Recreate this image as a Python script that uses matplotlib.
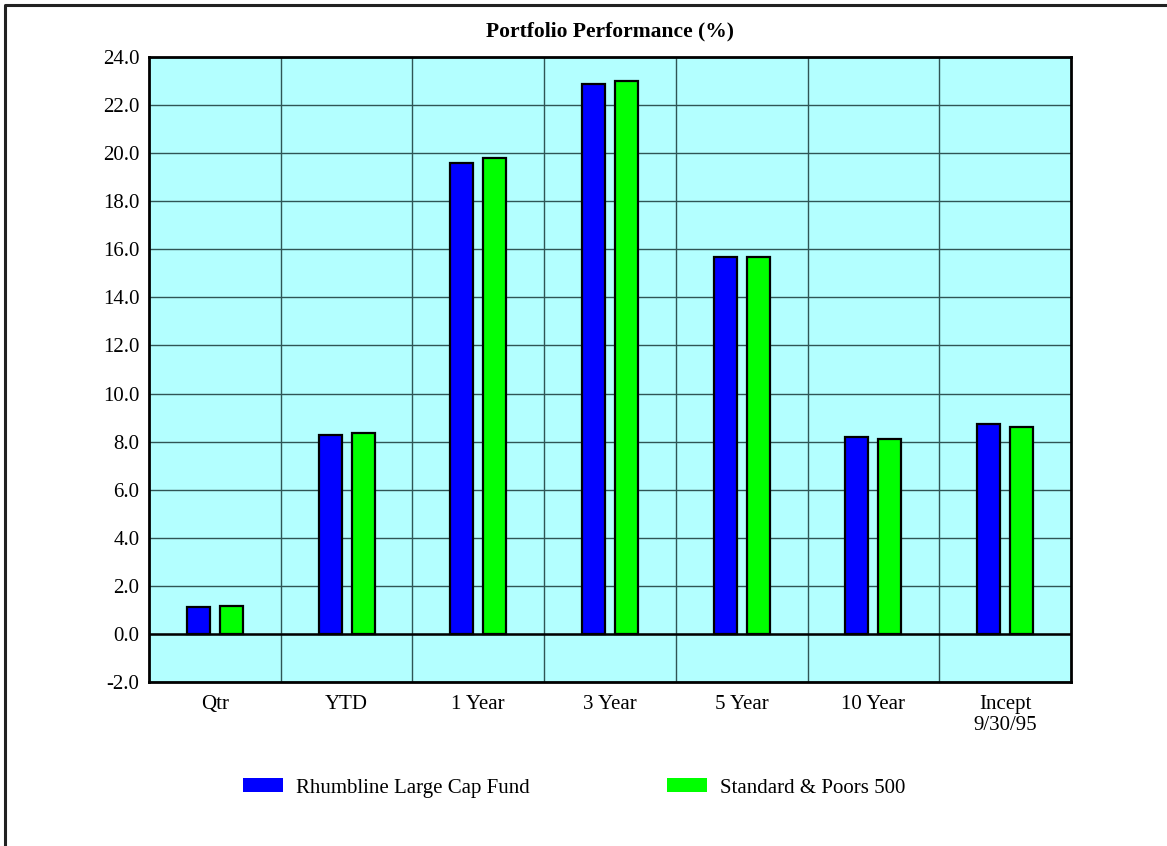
import matplotlib.pyplot as plt
import numpy as np
from matplotlib.lines import Line2D
from matplotlib.patches import Patch

plt.rcParams['font.family'] = ['Liberation Serif', 'DejaVu Serif']

categories = ["Qtr", "YTD", "1 Year", "3 Year", "5 Year", "10 Year", "Incept\n9/30/95"]
fund = [1.12, 8.28, 19.6, 22.88, 15.68, 8.2, 8.74]
sp500 = [1.16, 8.36, 19.8, 23.0, 15.68, 8.1, 8.6]
yticks = np.arange(-2.0, 24.1, 2.0)

fig = plt.figure(figsize=(11.67, 8.46), dpi=100)
ax = fig.add_axes([149 / 1167, 1 - 682 / 846, 922 / 1167, 625 / 846])
ax.set_facecolor("#b3ffff")

x = np.arange(len(categories))
ax.bar(x - 0.125, fund, width=0.175, color="#0000ff", edgecolor="black", linewidth=1.6, zorder=3)
ax.bar(x + 0.125, sp500, width=0.175, color="#00ff00", edgecolor="black", linewidth=1.6, zorder=3)
ax.axhline(0, color="black", linewidth=1.8, zorder=2)

ax.set_xlim(-0.5, len(categories) - 0.5)
ax.set_ylim(-2, 24)
ax.set_yticks(yticks)
ax.set_yticklabels([f"{v:.1f}" for v in yticks])
ax.set_xticks(x)
ax.set_xticklabels(categories, va="top", linespacing=1.2)
ax.set_xticks(x[:-1] + 0.5, minor=True)
ax.tick_params(axis="both", which="both", length=0, labelsize=15)
ax.tick_params(axis="x", pad=9)
ax.tick_params(axis="y", pad=7)
ax.grid(True, which="major", axis="y", color="#2f5555", linewidth=1, zorder=1)
ax.grid(True, which="minor", axis="x", color="#2f5555", linewidth=1, zorder=1)
ax.set_axisbelow(True)
for s in ax.spines.values():
    s.set_linewidth(2)
    s.set_color("black")

ax.set_title("Portfolio Performance (%)", fontsize=15.5, fontweight="bold", pad=15)

handles = [Patch(facecolor="#0000ff", edgecolor="none"), Patch(facecolor="#00ff00", edgecolor="none")]
fig.legend(handles, ["Rhumbline Large Cap Fund", "Standard & Poors 500"], loc="center left",
           bbox_to_anchor=(224 / 1167, 1 - 788 / 846), ncol=2, frameon=False, fontsize=15,
           handlelength=1.92, handleheight=0.67, handletextpad=0.65, columnspacing=6.55)

# page border (left and top only)
fig.add_artist(Line2D([5 / 1167, 5 / 1167, 1], [0, 1 - 5 / 846, 1 - 5 / 846],
                      color="#222222", linewidth=2.2, transform=fig.transFigure))

fig.savefig("out.png", dpi=100)
